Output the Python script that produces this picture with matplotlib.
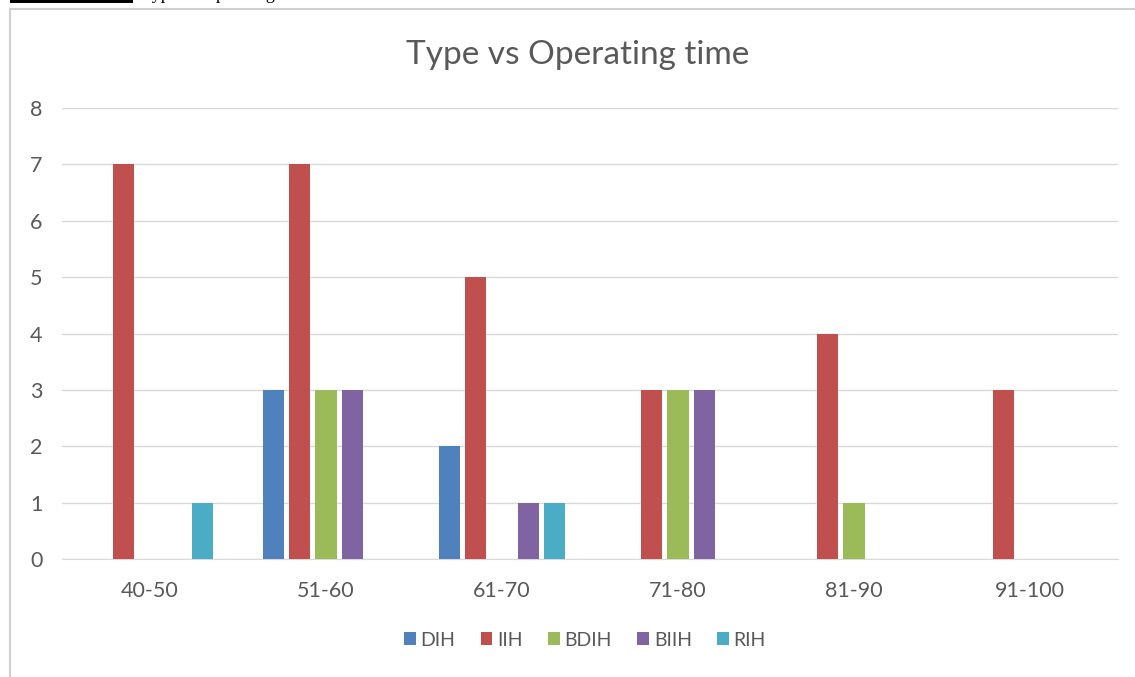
import matplotlib
matplotlib.use("Agg")
import matplotlib.pyplot as plt
import numpy as np
from matplotlib.patches import Rectangle

plt.rcParams['font.family'] = ['Lato', 'DejaVu Sans']

# operating time bands (minutes) and hernia type counts
categories = ['40-50', '51-60', '61-70', '71-80', '81-90', '91-100']
series_names = ['DIH', 'IIH', 'BDIH', 'BIIH', 'RIH']
dih = [0, 3, 2, 0, 0, 0]
iih = [7, 7, 5, 3, 4, 3]
bdih = [0, 3, 0, 3, 1, 0]
biih = [0, 3, 1, 3, 0, 0]
rih = [1, 0, 1, 0, 0, 0]
colors = ['#4F81BD', '#C0504D', '#9BBB59', '#8064A2', '#4BACC6']

W, H = 1135, 677
fig = plt.figure(figsize=(W / 100, H / 100), dpi=100)

# chart frame, running off the right and bottom edges
fig.patches.append(Rectangle((10 / W, -0.05), 1.1, 1 - 9 / H + 0.05,
                             transform=fig.transFigure, fill=False,
                             edgecolor='#D0D0D0', linewidth=1.5))
# cropped caption line above the chart
fig.patches.append(Rectangle((10 / W, 1 - 3 / H), 123 / W, 3 / H,
                             transform=fig.transFigure, facecolor='black',
                             edgecolor='none'))
fig.text(142 / W, 1 + 1 / H, 'Type vs Operating time', family='Liberation Serif',
         fontsize=13, va='baseline', ha='left', color='black')

ax = fig.add_axes([62 / W, 1 - 559 / H, (1118 - 62) / W, (559 - 108) / H])

x = np.arange(len(categories))
pitch = 0.15
width = 0.12
for i, (name, vals) in enumerate(zip(series_names, [dih, iih, bdih, biih, rih])):
    ax.bar(x + (i - 2) * pitch, vals, width, color=colors[i], label=name, zorder=3)

ax.set_xlim(-0.5, len(categories) - 0.5)
ax.set_ylim(0, 8)
ax.set_yticks(range(0, 9))
ax.set_xticks(x)
ax.set_xticklabels(categories)
ax.grid(axis='y', color='#D9D9D9', linewidth=1, zorder=0)
for side in ['top', 'right', 'left']:
    ax.spines[side].set_visible(False)
ax.spines['bottom'].set_color('#D9D9D9')
ax.tick_params(axis='both', length=0, colors='#595959', labelsize=15.5)
ax.tick_params(axis='y', pad=14)
ax.tick_params(axis='x', pad=16)

fig.text(578 / W, 1 - 55 / H, 'Type vs Operating time', ha='center', va='center',
         fontsize=24, color='#595959')

fig.legend(loc='center', bbox_to_anchor=(585 / W, 1 - 640 / H), ncol=5, frameon=False,
           fontsize=14, labelcolor='#595959', handlelength=0.6, handleheight=0.6,
           handletextpad=0.25, columnspacing=1.3)

fig.savefig('out.png', dpi=100)
